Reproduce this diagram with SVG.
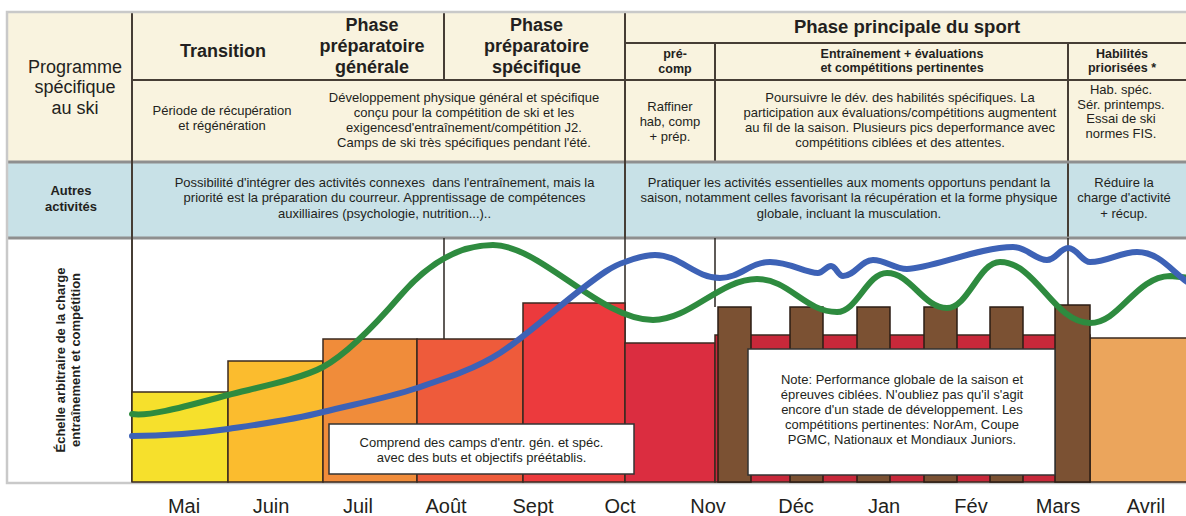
<svg xmlns="http://www.w3.org/2000/svg" width="1186" height="516" viewBox="0 0 1186 516">
<style>
text{font-family:"Liberation Sans",Arial,sans-serif;fill:#231f20;text-anchor:middle}
.hd{font-weight:bold;font-size:18px}
.sh{font-weight:bold;font-size:12.5px}
.lb{font-weight:bold;font-size:13px}
.tx{font-size:13px}
.big{font-size:18px}
.mo{font-size:20px}
.dv{stroke:#463d35;stroke-width:2;fill:none}
.sep{stroke:#8f8f8f;stroke-width:3;fill:none}
.gl{stroke:#2a2420;stroke-width:1.5;fill:none}
.bar{stroke:#3a2a20;stroke-width:1.5}
.post{fill:#7b5133;stroke:#2b1d14;stroke-width:1.5}
.box{fill:#ffffff;stroke:#333333;stroke-width:1.5}
.crv{fill:none;stroke-width:6;stroke-linecap:round;stroke-linejoin:round}
</style>
<rect width="1186" height="516" fill="#ffffff"/>
<g id="background">
<rect x="7" y="12" width="1185" height="150" fill="#f9f3df"/>
<rect x="7" y="162" width="1185" height="76" fill="#c8e1e7"/>
<rect x="7" y="238" width="1185" height="245" fill="#ffffff"/>
</g>
<g id="grid">
<line class="dv" x1="132" y1="80" x2="1186" y2="80"/>
<line class="dv" x1="625" y1="43" x2="1186" y2="43"/>
<line class="dv" x1="444" y1="12" x2="444" y2="80"/>
<line class="dv" x1="715" y1="43" x2="715" y2="162"/>
<line class="dv" x1="1068" y1="43" x2="1068" y2="238"/>
<line class="sep" x1="7" y1="162" x2="1186" y2="162"/>
<line class="sep" x1="7" y1="238" x2="1186" y2="238"/>
<line class="dv" x1="132" y1="12" x2="132" y2="483" stroke-width="2.5"/>
<line class="dv" x1="625" y1="12" x2="625" y2="238" stroke-width="2.5"/>
<line class="gl" x1="444" y1="238" x2="444" y2="339"/>
<line class="gl" x1="625" y1="238" x2="625" y2="483"/>
<line class="gl" x1="715" y1="238" x2="715" y2="307"/>
<line class="gl" x1="1068" y1="238" x2="1068" y2="305"/>
<rect x="7" y="12" width="1185" height="471" fill="none" stroke="#c9c9c9" stroke-width="2.5"/>
</g>
<g id="row-label-programme">
<text class="big" x="75" y="72.5">Programme</text>
<text class="big" x="75" y="93">spécifique</text>
<text class="big" x="75" y="113.5">au ski</text>
</g>
<g id="transition">
<text class="hd" x="223" y="57">Transition</text>
<text class="tx" x="222" y="114.5">Période de récupération</text>
<text class="tx" x="222" y="129.5">et régénération</text>
</g>
<g id="phase-generale">
<text class="hd" x="372" y="31">Phase</text>
<text class="hd" x="372" y="52">préparatoire</text>
<text class="hd" x="372" y="72.5">générale</text>
</g>
<g id="phase-specifique">
<text class="hd" x="536.5" y="31">Phase</text>
<text class="hd" x="536.5" y="52">préparatoire</text>
<text class="hd" x="536.5" y="72.5">spécifique</text>
</g>
<g id="developpement">
<text class="tx" x="464" y="102">Développement physique général et spécifique</text>
<text class="tx" x="464" y="117">conçu pour la compétition de ski et les</text>
<text class="tx" x="464" y="132">exigencesd'entraînement/compétition J2.</text>
<text class="tx" x="464" y="147">Camps de ski très spécifiques pendant l'été.</text>
</g>
<g id="phase-principale">
<text class="hd" x="907" y="33" style="font-size:18.5px">Phase principale du sport</text>
</g>
<g id="pre-comp">
<text class="sh" x="675" y="58">pré-</text>
<text class="sh" x="675" y="72.5">comp</text>
<text class="tx" x="670" y="111">Raffiner</text>
<text class="tx" x="670" y="126">hab, comp</text>
<text class="tx" x="670" y="141">+ prép.</text>
</g>
<g id="entrainement">
<text class="sh" x="902" y="57.5">Entraînement + évaluations</text>
<text class="sh" x="902" y="72">et compétitions pertinentes</text>
<text class="tx" x="900" y="102">Poursuivre le dév. des habilités spécifiques. La</text>
<text class="tx" x="900" y="117">participation aux évaluations/compétitions augmentent</text>
<text class="tx" x="900" y="132">au fil de la saison. Plusieurs pics deperformance avec</text>
<text class="tx" x="900" y="147">compétitions ciblées et des attentes.</text>
</g>
<g id="habilites">
<text class="sh" x="1122" y="57.5">Habilités</text>
<text class="sh" x="1122" y="72">priorisées *</text>
<text class="tx" x="1121" y="94">Hab. spéc.</text>
<text class="tx" x="1121" y="108.5">Sér. printemps.</text>
<text class="tx" x="1121" y="123">Essai de ski</text>
<text class="tx" x="1121" y="137.5">normes FIS.</text>
</g>
<g id="autres-activites">
<text class="lb" x="71" y="194.5">Autres</text>
<text class="lb" x="71" y="210.5">activités</text>
<text class="tx" x="384.5" y="186.5" xml:space="preserve">Possibilité d'intégrer des activités connexes  dans l'entraînement, mais la</text>
<text class="tx" x="384.5" y="202">priorité est la préparation du courreur. Apprentissage de compétences</text>
<text class="tx" x="384.5" y="217.5">auxilliaires (psychologie, nutrition...)..</text>
<text class="tx" x="849" y="186.5">Pratiquer les activités essentielles aux moments opportuns pendant la</text>
<text class="tx" x="849" y="202">saison, notamment celles favorisant la récupération et la forme physique</text>
<text class="tx" x="849" y="217.5">globale, incluant la musculation.</text>
<text class="tx" x="1124" y="186.5">Réduire la</text>
<text class="tx" x="1124" y="202">charge d'activité</text>
<text class="tx" x="1124" y="217.5">+ récup.</text>
</g>
<g id="axis-label">
<text class="lb" transform="translate(65,360) rotate(-90)">Échelle arbitraire de la charge</text>
<text class="lb" transform="translate(79.5,360) rotate(-90)">entraînement et compétition</text>
</g>
<g id="bars">
<rect class="bar" x="132" y="392" width="96" height="90" fill="#f6e02c"/>
<rect class="bar" x="228" y="361" width="95" height="121" fill="#fbbc2e"/>
<rect class="bar" x="323" y="339" width="94" height="143" fill="#f08c3a"/>
<rect class="bar" x="417" y="339" width="106" height="143" fill="#ee5b3b"/>
<rect class="bar" x="523" y="303" width="102" height="179" fill="#ec3a3d"/>
<rect class="bar" x="625" y="343" width="90" height="139" fill="#db2d40"/>
<rect class="bar" x="715" y="335" width="375" height="147" fill="#c8283a"/>
<rect class="bar" x="1090" y="338" width="100" height="144" fill="#eba55c"/>
</g>
<g id="posts">
<rect class="post" x="718" y="307" width="33" height="175"/>
<rect class="post" x="790" y="307" width="33" height="175"/>
<rect class="post" x="857" y="307" width="33" height="175"/>
<rect class="post" x="924" y="307" width="33" height="175"/>
<rect class="post" x="990" y="307" width="33" height="175"/>
<rect class="post" x="1055" y="305" width="35" height="177"/>
</g>
<g id="curves">
<path class="crv" stroke="#2e8b3f" d="M132,414 C150,417 190,405 228,395 C255,388 301,379 323,367 C345,355 375,325 400,296 C425,267 455,245 493,245 C540,245 600,320 653,320 C690,320 720,279 757,279 C789,279 805,312 837,312 C857,312 867,273 887,273 C911,273 923,308 947,308 C968,308 979,262 1000,262 C1036,262 1054,323 1090,323 C1120,323 1135,277 1170,276 L1190,278"/>
<path class="crv" stroke="#3d62b6" d="M132,436 C170,436 200,433 228,429 C262,424 292,420 323,412 C355,404 387,398 417,388 C447,378 475,369 500,353 C525,337 560,305 583,288 C600,275 612,266 625,262 C638,257 645,255 655,255 C680,255 695,278 720,278 C740,278 750,262 770,262 C790,262 805,273 818,273 C823,273 826,266 831,266 C836,266 838,276 843,276 C855,276 861,260 873,260 C886,260 894,269 907,269 C930,269 980,247 1013,247 C1027,247 1035,260 1047,260 C1056,260 1060,248 1068,248 C1077,248 1082,262 1090,262 C1108,262 1120,252 1137,252 C1160,252 1172,272 1190,284"/>
</g>
<g id="note-camps">
<rect class="box" x="329" y="424" width="305" height="50"/>
<text class="tx" x="481.5" y="446.5">Comprend des camps d'entr. gén. et spéc.</text>
<text class="tx" x="481.5" y="461.5">avec des buts et objectifs préétablis.</text>
</g>
<g id="note-saison">
<rect class="box" x="748" y="349" width="307" height="126"/>
<text class="tx" x="902" y="384">Note: Performance globale de la saison et</text>
<text class="tx" x="902" y="399">épreuves ciblées. N'oubliez pas qu'il s'agit</text>
<text class="tx" x="902" y="414">encore d'un stade de développement. Les</text>
<text class="tx" x="902" y="429">compétitions pertinentes: NorAm, Coupe</text>
<text class="tx" x="902" y="444">PGMC, Nationaux et Mondiaux Juniors.</text>
</g>
<g id="months">
<text class="mo" x="184" y="513">Mai</text>
<text class="mo" x="271" y="513">Juin</text>
<text class="mo" x="358" y="513">Juil</text>
<text class="mo" x="446" y="513">Août</text>
<text class="mo" x="533" y="513">Sept</text>
<text class="mo" x="620" y="513">Oct</text>
<text class="mo" x="708" y="513">Nov</text>
<text class="mo" x="796" y="513">Déc</text>
<text class="mo" x="884" y="513">Jan</text>
<text class="mo" x="971" y="513">Fév</text>
<text class="mo" x="1058" y="513">Mars</text>
<text class="mo" x="1146" y="513">Avril</text>
</g>
</svg>
